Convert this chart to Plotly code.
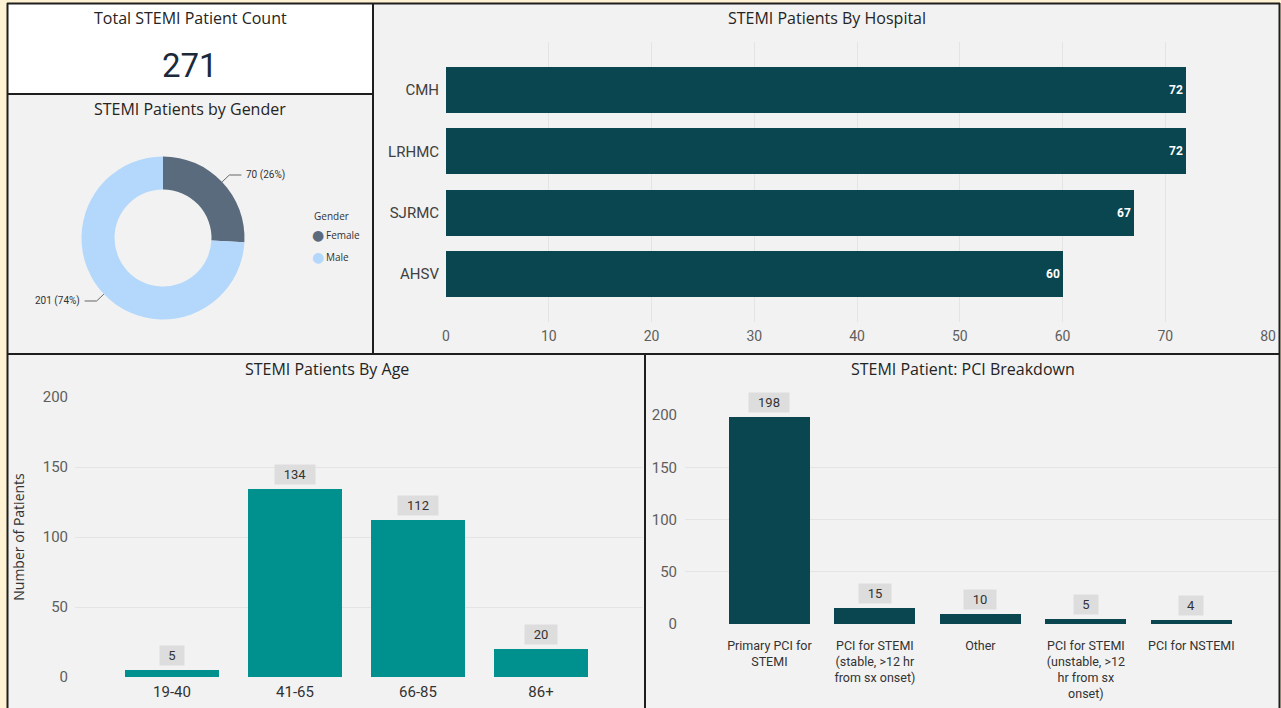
import math
import plotly.graph_objects as go

W, H = 1281, 708

def px(x):
    return x / W

def py(y):
    return 1 - y / H

# ---------------- data ----------------
kpi_title = "Total STEMI Patient Count"

gender_title = "STEMI Patients by Gender"
gender_labels = ["Female", "Male"]
gender_counts = [70, 201]
gender_colors = ["#5B6B7E", "#B3D8FB"]

hospital_title = "STEMI Patients By Hospital"
hospitals = ["CMH", "LRHMC", "SJRMC", "AHSV"]
hospital_counts = [72, 72, 67, 60]
hospital_ticks = [0, 10, 20, 30, 40, 50, 60, 70, 80]

age_title = "STEMI Patients By Age"
age_groups = ["19-40", "41-65", "66-85", "86+"]
age_counts = [5, 134, 112, 20]
age_ticks = [0, 50, 100, 150, 200]

pci_title = "STEMI Patient: PCI Breakdown"
pci_types = [
    "Primary PCI for<br>STEMI",
    "PCI for STEMI<br>(stable, >12 hr<br>from sx onset)",
    "Other",
    "PCI for STEMI<br>(unstable, >12<br>hr from sx<br>onset)",
    "PCI for NSTEMI",
]
pci_counts = [198, 15, 10, 5, 4]
pci_ticks = [0, 50, 100, 150, 200]

# ---------------- style ----------------
TITLE_FONT = "Segoe UI, Open Sans, sans-serif"
TICK_FONT = "DIN, Roboto, sans-serif"
DARK_TEAL = "#0A4650"
TEAL = "#00918E"
PANEL = "#F2F2F2"
GRID = "#E4E4E4"
TXT = "#252423"
TICK = "#605E5C"

fig = go.Figure()

# Donut
cx, cy, R = 163, 238, 81.5
fig.add_trace(go.Pie(
    labels=gender_labels, values=gender_counts, hole=0.595, sort=False,
    direction="clockwise", rotation=0,
    marker=dict(colors=gender_colors, line=dict(width=0)),
    textinfo="none", showlegend=False,
    domain=dict(x=[px(cx - R), px(cx + R)], y=[py(cy + R), py(cy - R)]),
))

# Hospital bars
fig.add_trace(go.Bar(
    x=hospital_counts, y=hospitals, orientation="h", xaxis="x", yaxis="y",
    marker=dict(color=DARK_TEAL, line=dict(width=0)), width=0.75,
    texttemplate="<b>%{x}</b>", textposition="inside", insidetextanchor="end",
    textfont=dict(color="white", size=12, family=TICK_FONT), showlegend=False,
))

# Age bars
fig.add_trace(go.Bar(
    x=age_groups, y=age_counts, xaxis="x2", yaxis="y2",
    marker=dict(color=TEAL, line=dict(width=0)), width=0.765, showlegend=False,
))

# PCI bars
fig.add_trace(go.Bar(
    x=pci_types, y=pci_counts, xaxis="x3", yaxis="y3",
    marker=dict(color=DARK_TEAL, line=dict(width=0)), width=0.768, showlegend=False,
))

shapes = []

def rect(x0, y0, x1, y1, fill):
    shapes.append(dict(type="rect", xref="paper", yref="paper",
                       x0=px(x0), x1=px(x1), y0=py(y1), y1=py(y0),
                       fillcolor=fill, line=dict(width=0), layer="below"))

rect(7, 3, 373, 94, "#FFFFFF")
rect(7, 94, 373, 354, PANEL)
rect(373, 3, 1280, 354, PANEL)
rect(7, 354, 645, 710, PANEL)
rect(645, 354, 1280, 710, PANEL)

def line(x0, y0, x1, y1, w=2, c="#1E1E1E"):
    shapes.append(dict(type="line", xref="paper", yref="paper",
                       x0=px(x0), x1=px(x1), y0=py(y0), y1=py(y1),
                       line=dict(color=c, width=w), layer="above"))

line(7, 3.5, 1280, 3.5)
line(7.5, 3, 7.5, 708)
line(1279.5, 3, 1279.5, 708)
line(7, 94, 373, 94)
line(373, 3, 373, 354)
line(7, 354, 1280, 354)
line(645, 354, 645, 708)

annotations = []

def text(x, y, t, size, color=TXT, family=TITLE_FONT, xanchor="center", yanchor="middle"):
    annotations.append(dict(x=px(x), y=py(y), xref="paper", yref="paper", text=t,
                            showarrow=False, xanchor=xanchor, yanchor=yanchor,
                            font=dict(size=size, color=color, family=family)))

# titles
text(190, 18, kpi_title, 16)
text(190, 65, f"{sum(gender_counts)}", 33, color="#1B2A3A", family=TICK_FONT)
text(190, 109, gender_title, 16)
text(827, 18, hospital_title, 16)
text(327, 369, age_title, 16)
text(963, 369, pci_title, 16)

# donut labels with leader lines
total = sum(gender_counts)
cum = 0
for lab, v in zip(gender_labels, gender_counts):
    mid = (cum + v / 2) / total * 2 * math.pi
    cum += v
    s, c = math.sin(mid), math.cos(mid)
    sx, sy = cx + R * s, cy - R * c
    ex, ey = cx + (R + 10) * s, cy - (R + 10) * c
    side = 1 if s > 0 else -1
    hx = ex + side * 12
    shapes.append(dict(type="path", xref="paper", yref="paper",
                       path=f"M {px(sx)},{py(sy)} L {px(ex)},{py(ey)} L {px(hx)},{py(ey)}",
                       line=dict(color="#666666", width=1)))
    text(hx + side * 3, ey, f"{v} ({round(100 * v / total)}%)", 10, color="#333333",
         family=TICK_FONT, xanchor="left" if side > 0 else "right")

# legend (built from gender lists)
text(312, 216, "Gender", 10, color="#333333", xanchor="left")
for i, (lab, col) in enumerate(zip(gender_labels, gender_colors)):
    yy = 235 + 22 * i
    text(318, yy, "●", 14, color=col, family="DejaVu Sans")
    text(324, yy, lab, 10, color="#333333", xanchor="left")

# value boxes
def boxes(cats, vals, xr, yr):
    for cat, v in zip(cats, vals):
        annotations.append(dict(x=cat, y=v, xref=xr, yref=yr, text=str(v),
                                showarrow=False, yanchor="bottom", yshift=4,
                                bgcolor="#DDDDDD", borderpad=2,
                                width=8 * len(str(v)) + 12,
                                font=dict(size=13, color="#333333", family=TICK_FONT)))

boxes(age_groups, age_counts, "x2", "y2")
boxes(pci_types, pci_counts, "x3", "y3")

fig.update_layout(
    width=W, height=H, margin=dict(l=0, r=0, t=0, b=0, pad=0, autoexpand=False),
    paper_bgcolor="#FFF3D4", plot_bgcolor="rgba(0,0,0,0)",
    bargap=0, showlegend=False,
    shapes=shapes, annotations=annotations,
    xaxis=dict(domain=[px(446), px(1268)], range=[0, 80], tickvals=hospital_ticks,
               showgrid=True, gridcolor=GRID, zeroline=False, showline=False,
               tickfont=dict(size=14, color=TICK, family=TICK_FONT), anchor="y",
               ticklabelstandoff=4, automargin=False),
    yaxis=dict(domain=[py(322), py(42)], type="category",
               categoryorder="array", categoryarray=hospitals[::-1],
               range=[-0.78, 3.78], showgrid=False, zeroline=False, showline=False,
               tickfont=dict(size=15, color="#404040", family=TICK_FONT), anchor="x",
               ticklabelstandoff=6, automargin=False),
    xaxis2=dict(domain=[px(75), px(643)], type="category", range=[-0.789, 3.829],
                showgrid=False, zeroline=False, showline=False, anchor="y2",
                tickfont=dict(size=15, color="#333333", family=TICK_FONT),
                ticklabelstandoff=4, automargin=False),
    yaxis2=dict(domain=[py(677), py(397)], range=[0, 200], tickvals=age_ticks,
                showgrid=True, gridcolor=GRID, zeroline=False, showline=False, anchor="x2",
                tickfont=dict(size=15, color=TICK, family=TICK_FONT), automargin=False,
                ticklabelstandoff=6,
                title=dict(text="Number of Patients", standoff=14,
                           font=dict(size=14, color="#333333", family=TITLE_FONT))),
    xaxis3=dict(domain=[px(685), px(1280)], type="category", range=[-0.80, 4.84],
                showgrid=False, zeroline=False, showline=False, anchor="y3",
                tickfont=dict(size=12.5, color="#333333", family=TICK_FONT),
                ticklabelstandoff=12, automargin=False),
    yaxis3=dict(domain=[py(624), py(415)], range=[0, 200], tickvals=pci_ticks,
                showgrid=True, gridcolor=GRID, zeroline=False, showline=False, anchor="x3",
                tickfont=dict(size=15, color=TICK, family=TICK_FONT), automargin=False,
                ticklabelstandoff=7),
)

fig.write_html("out.html", config={"displayModeBar": False},
               post_script="document.body.style.margin='0';document.body.style.overflow='hidden';")
